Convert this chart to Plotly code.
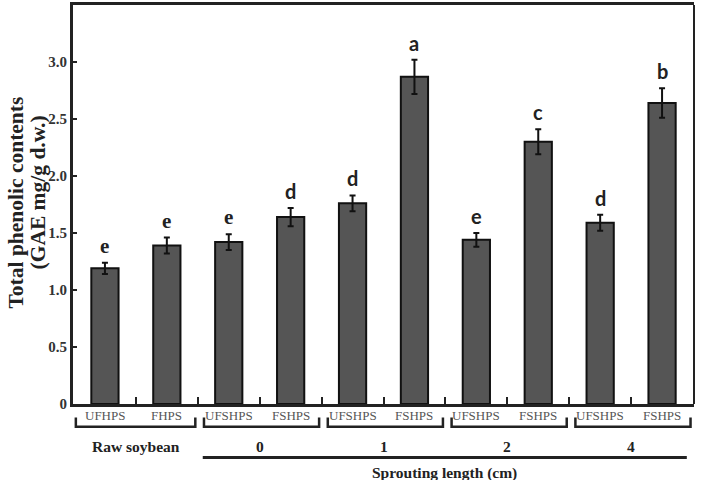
import plotly.graph_objects as go

# ---- data ----
bar_labels = ["UFHPS", "FHPS", "UFSHPS", "FSHPS", "UFSHPS", "FSHPS",
              "UFSHPS", "FSHPS", "UFSHPS", "FSHPS"]
values = [1.19, 1.39, 1.42, 1.64, 1.76, 2.87, 1.44, 2.30, 1.59, 2.64]
errors = [0.05, 0.07, 0.07, 0.08, 0.07, 0.15, 0.06, 0.11, 0.07, 0.13]
letters = ["e", "e", "e", "d", "d", "a", "e", "c", "d", "b"]
group_labels = ["Raw soybean", "0", "1", "2", "4"]
y_tick_vals = [0, 0.5, 1.0, 1.5, 2.0, 2.5, 3.0, 3.5]
y_tick_text = ["0", "0.5", "1.0", "1.5", "2.0", "2.5", "3.0", "3.5"]
x_title = "Sprouting length (cm)"
y_title_lines = ["Total phenolic contents", "(GAE mg/g d.w.)"]

xs = list(range(len(values)))
SERIF = "Liberation Serif"
SANS = "Lato"

fig = go.Figure()
fig.add_trace(go.Bar(
    x=xs, y=values, width=0.44,
    marker=dict(color="#555555", line=dict(color="#111111", width=2)),
    error_y=dict(type="data", array=errors, color="#111111", thickness=2, width=3),
    showlegend=False,
))

annotations = []
# significance letters
for i, (v, e, t) in enumerate(zip(values, errors, letters)):
    fam = SERIF if i < 3 else SANS
    annotations.append(dict(x=i, y=v + e, xref="x", yref="y", text=t, showarrow=False,
                            yanchor="middle", yshift=17,
                            font=dict(family=fam, size=21 if i < 3 else 20,
                                      color="#222222", weight="bold")))
# bar category labels
for i, t in enumerate(bar_labels):
    annotations.append(dict(x=i, y=-0.030, xref="x", yref="paper", text=t, showarrow=False,
                            yanchor="middle",
                            font=dict(family=SERIF, size=13, color="#555555")))
# group labels
for g, t in enumerate(group_labels):
    annotations.append(dict(x=2 * g + 0.5, y=-0.107, xref="x", yref="paper", text=t,
                            showarrow=False, yanchor="middle",
                            font=dict(family=SERIF, size=15.5, color="#222222", weight="bold")))
annotations.append(dict(x=(1.58 + 9.40) / 2, y=-0.172, xref="x", yref="paper", text=x_title,
                        showarrow=False, yanchor="middle",
                        font=dict(family=SERIF, size=15.5, color="#222222", weight="bold")))
# y title, two lines placed individually
for xp, yp, t in zip([-0.0918, -0.0564], [0.505, 0.53], y_title_lines):
    annotations.append(dict(x=xp, y=yp, xref="paper", yref="paper", text=t,
                            showarrow=False, textangle=-90, xanchor="center", yanchor="middle",
                            font=dict(family=SERIF, size=21.5, color="#222222", weight="bold")))

shapes = []
# brackets under each pair
for g in range(len(group_labels)):
    x0 = 2 * g - 0.5 + (0.03 if g == 0 else 0.1)
    x1 = 2 * g + 1.5 - 0.04
    ytop, ybot = -0.034, -0.057
    shapes.append(dict(type="path", xref="x", yref="paper",
                       path=f"M {x0},{ytop} L {x0},{ybot} L {x1},{ybot} L {x1},{ytop}",
                       line=dict(color="#222222", width=2.5)))
# sprouting length underline
shapes.append(dict(type="line", xref="x", yref="paper", x0=1.58, x1=9.40, y0=-0.134, y1=-0.134,
                   line=dict(color="#222222", width=3)))
# right border (thinner)
shapes.append(dict(type="line", xref="paper", yref="paper", x0=1, x1=1, y0=0, y1=1,
                   line=dict(color="#222222", width=2)))

fig.update_layout(
    width=704, height=480,
    margin=dict(l=73, r=10, t=2, b=76),
    paper_bgcolor="white", plot_bgcolor="white",
    bargap=0.56,
    annotations=annotations, shapes=shapes,
    xaxis=dict(range=[-0.516, 9.516], showgrid=False, zeroline=False,
               showline=True, linecolor="#222222", linewidth=3, mirror=True,
               tickmode="array", tickvals=[i + 0.5 for i in range(len(values) - 1)],
               ticks="inside", ticklen=7, tickwidth=2, tickcolor="#222222",
               showticklabels=False),
    yaxis=dict(range=[0, 3.5], showgrid=False, zeroline=False,
               showline=True, linecolor="#222222", linewidth=3,
               tickmode="array", tickvals=y_tick_vals, ticktext=y_tick_text,
               ticks="inside", ticklen=4, tickwidth=2, tickcolor="#222222",
               tickfont=dict(family=SERIF, size=15, color="#333333", weight="bold")),
)

fig.write_html("out.html")
